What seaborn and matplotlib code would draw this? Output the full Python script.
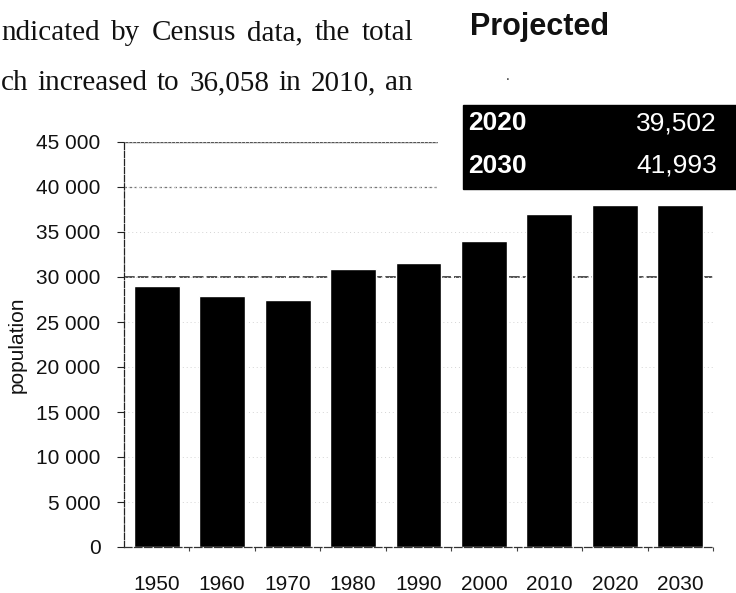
import matplotlib
matplotlib.use("Agg")
import matplotlib.pyplot as plt
from matplotlib.patches import Rectangle
from matplotlib.ticker import FuncFormatter, FixedLocator
import numpy as np
import seaborn as sns

YEARS      = ["1950", "1960", "1970", "1980", "1990", "2000", "2010", "2020", "2030"]
POPULATION = [29000, 27900, 27450, 30900, 31550, 34050, 36950, 38050, 38000]
Y_TICKS    = [0, 5000, 10000, 15000, 20000, 25000, 30000, 35000, 40000, 45000]

PROJ_YEARS  = ["2020", "2030"]
PROJ_VALUES = ["39,502", "41,993"]

BODY_LINES = [
    "ndicated by Census data, the total",
    "ch increased to 36,058 in 2010, an",
]

W, H = 736, 593
DPI  = 100


def px(x, y):
    """pixel coords (top-left origin) -> figure fraction"""
    return x / W, 1 - y / H


def justified(fig, line, x0, x1, y, **kw):
    """lay the words of one line out between x0 and x1 (pixels)"""
    renderer = fig.canvas.get_renderer()
    words    = line.split()
    texts    = [fig.text(0, 0, w, **kw) for w in words]
    widths   = [t.get_window_extent(renderer).width for t in texts]
    gap      = (x1 - x0 - sum(widths)) / (len(words) - 1)
    x = x0
    for t, w in zip(texts, widths):
        t.set_position(px(x, y))
        x += w + gap


sns.set_theme(style="white")
plt.rcParams["font.family"] = ["Liberation Sans", "DejaVu Sans"]

fig = plt.figure(figsize=(W / DPI, H / DPI), dpi=DPI)
ax  = fig.add_axes([124 / W, 46 / H, 589 / W, 405 / H])

sns.barplot(x=YEARS, y=POPULATION, color="black", width=0.7,
            saturation=1, ax=ax, zorder=2)

ax.set_xlim(-0.5, len(YEARS) - 0.5)
ax.set_ylim(0, max(Y_TICKS))
ax.set_yticks(Y_TICKS)
ax.yaxis.set_major_formatter(FuncFormatter(lambda v, _: f"{v:,.0f}".replace(",", " ")))

# faint gridlines, a few stand out in the scan
ax.set_axisbelow(True)
ax.yaxis.grid(True, color="#d4d4d4", linestyle=(0, (1, 3)), lw=0.7)
ax.axhline(Y_TICKS[-1], color="#555555", lw=1.0, zorder=0.5)
ax.axhline(Y_TICKS[-2], color="#777777", lw=0.9, ls=(0, (2, 2)), zorder=0.5)
ax.axhline(Y_TICKS[6], color="#222222", lw=1.1, ls=(0, (7, 2)), zorder=0.5)

for side in ["top", "right"]:
    ax.spines[side].set_visible(False)
ax.spines["left"].set_color("#222222")
ax.spines["left"].set_linestyle((0, (5, 1.5)))
ax.spines["left"].set_linewidth(0.9)
ax.spines["bottom"].set_color("#333333")
ax.spines["bottom"].set_linestyle((0, (6, 2)))
ax.spines["bottom"].set_linewidth(0.9)

ax.tick_params(axis="y", which="major", left=True, length=5, width=0.8,
               color="#222222", labelsize=15, pad=12, labelcolor="#111111")
ax.tick_params(axis="x", which="major", bottom=False, labelsize=15,
               pad=14, labelcolor="#111111")
ax.xaxis.set_minor_locator(FixedLocator(np.arange(len(YEARS)) + 0.5))
ax.tick_params(axis="x", which="minor", bottom=True, length=3, width=0.8,
               color="#444444")
ax.set_xlabel("")
ax.set_ylabel("population", fontsize=15, labelpad=7, color="#111111")

# white margin around the projection table hides the grid behind it
fig.add_artist(Rectangle(px(438, 192), (W - 438) / W, 100 / H,
                         transform=fig.transFigure, color="white", zorder=3))
fig.add_artist(Rectangle(px(463, 189), (W - 463) / W, 84 / H,
                         transform=fig.transFigure, color="black", zorder=4))

row_y = [123.5, 166]
for yr, val, y in zip(PROJ_YEARS, PROJ_VALUES, row_y):
    fig.text(*px(468, y), yr, color="white", fontsize=19, fontweight="bold",
             ha="left", va="center", zorder=5)
    fig.text(*px(717, y), val, color="white", fontsize=19,
             ha="right", va="center", zorder=5)

fig.text(*px(470, 27), "Projected", fontsize=22, fontweight="bold",
         ha="left", va="center", color="#111111")
fig.text(*px(508, 76), ".", fontsize=10, ha="center", va="center")

for line, y in zip(BODY_LINES, [33, 83]):
    justified(fig, line, 1, 413, y, family="Liberation Serif", fontsize=21,
              ha="left", va="center", color="#111111")

fig.savefig("out.png", dpi=DPI)
